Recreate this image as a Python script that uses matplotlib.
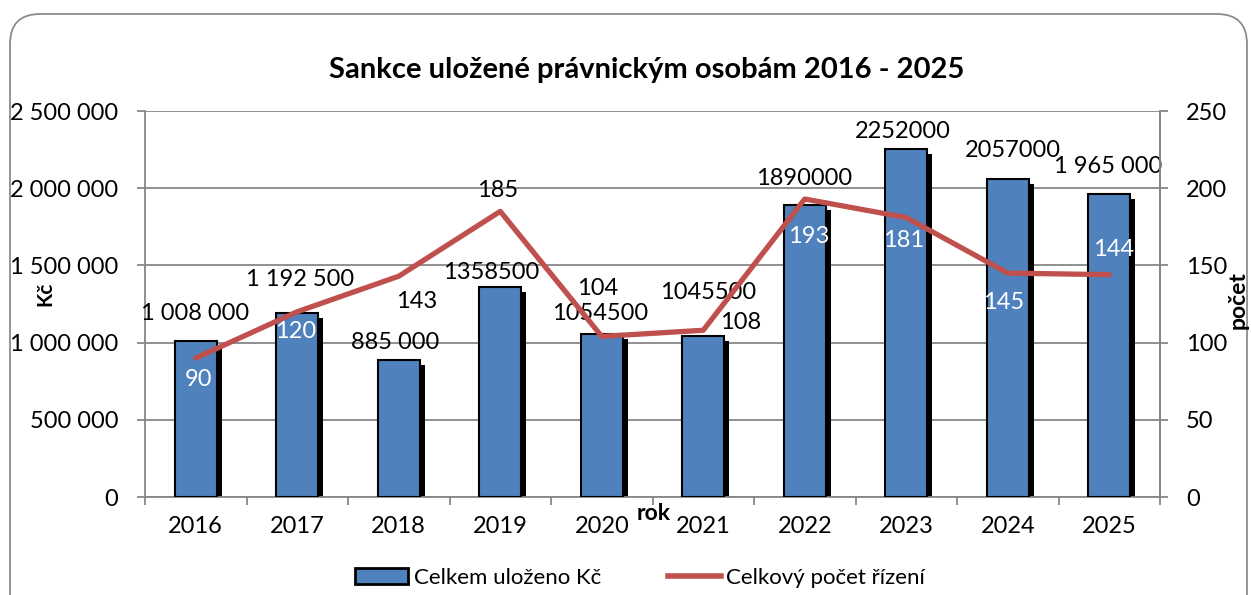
import matplotlib
import matplotlib.pyplot as plt
from matplotlib.patches import FancyBboxPatch, Patch
from matplotlib.lines import Line2D
from matplotlib.ticker import FuncFormatter, MultipleLocator

matplotlib.use("Agg")

# data
years = ["2016", "2017", "2018", "2019", "2020", "2021", "2022", "2023", "2024", "2025"]
fines = [1008000, 1192500, 885000, 1358500, 1054500, 1045500, 1890000, 2252000, 2057000, 1965000]
fine_labels = ["1 008 000", "1 192 500", "885 000", "1358500", "1054500",
               "1045500", "1890000", "2252000", "2057000", "1 965 000"]
cases = [90, 120, 143, 185, 104, 108, 193, 181, 145, 144]

# manual label placement (pixels), like the hand-moved labels in the original
fine_offsets = [(-1, 28), (3, 33), (-4, 18), (-9, 15), (-2, 21),
                (5, 43), (-1, 27), (-3, 18), (5, 29), (-1, 27)]
case_offsets = [(3, -21), (-2, -20), (18, -25), (-3, 21), (-4, 48),
                (37, 8), (4, -37), (-3, -23), (-4, -29), (4, 25)]
case_colors = ["white", "white", "black", "black", "black",
               "black", "white", "white", "white", "white"]

BLUE = "#4F81BD"
RED = "#C0504D"
GRID = "#878787"
FONT = "Lato"
FS = 17

plt.rcParams["font.family"] = [FONT, "DejaVu Sans"]

fig = plt.figure(figsize=(12.51, 5.95), dpi=100)
ax = fig.add_axes([145 / 1251, 1 - 497 / 595, (1160 - 145) / 1251, (497 - 111) / 595])
ax2 = ax.twinx()

x = list(range(len(years)))
width = 0.41
shadow_dx = 0.05
shadow_dy = 32000

# shadows first, then the bars
ax.bar([i + shadow_dx for i in x], [v - shadow_dy for v in fines], width=width,
       color="black", zorder=2)
ax.bar(x, fines, width=width, color=BLUE, edgecolor="black", linewidth=1.5, zorder=3)

ax.set_xlim(-0.5, len(years) - 0.5)
ax.set_ylim(0, 2500000)
ax.yaxis.set_major_locator(MultipleLocator(500000))
ax.yaxis.set_major_formatter(FuncFormatter(lambda v, p: f"{int(v):,}".replace(",", " ")))
ax.grid(axis="y", color=GRID, linewidth=1.3, zorder=0)
ax.set_axisbelow(True)

ax.set_xticks(x)
ax.set_xticklabels(years)
ax.set_xticks([i - 0.5 for i in range(len(years) + 1)], minor=True)
ax.tick_params(axis="x", which="major", length=0, pad=14, labelsize=FS)
ax.tick_params(axis="x", which="minor", length=5.8, width=1.3, color=GRID, direction="out")
ax.tick_params(axis="y", length=5.8, width=1.3, color=GRID, labelsize=FS, pad=13.5)

for sp in ax.spines.values():
    sp.set_color(GRID)
    sp.set_linewidth(1.3)
ax.spines["top"].set_visible(False)

for i, (v, lab, off) in enumerate(zip(fines, fine_labels, fine_offsets)):
    ax.annotate(lab, (i, v), xytext=off, textcoords="offset pixels",
                ha="center", va="center", fontsize=FS, zorder=6)

ax2.plot(x, cases, color=RED, linewidth=3.8, solid_capstyle="round", zorder=4)
ax2.set_ylim(0, 250)
ax2.yaxis.set_major_locator(MultipleLocator(50))
ax2.tick_params(axis="y", length=5.8, width=1.3, color=GRID, labelsize=FS, pad=13)
for sp in ax2.spines.values():
    sp.set_visible(False)
ax2.spines["right"].set_visible(True)
ax2.spines["right"].set_color(GRID)
ax2.spines["right"].set_linewidth(1.3)

for i, (v, off, c) in enumerate(zip(cases, case_offsets, case_colors)):
    ax2.annotate(str(v), (i, v), xytext=off, textcoords="offset pixels",
                 ha="center", va="center", fontsize=FS, color=c, zorder=6)

fig.text(647 / 1251, 1 - 70 / 595, "Sankce uložené právnickým osobám 2016 - 2025",
         ha="center", va="center", fontsize=21, fontweight="bold")
fig.text(45 / 1251, 1 - 294 / 595, "Kč", ha="center", va="center", rotation=90,
         fontsize=15, fontweight="bold")
fig.text(1238 / 1251, 1 - 300 / 595, "počet", ha="center", va="center", rotation=90,
         fontsize=16.5, fontweight="bold")
fig.text(654 / 1251, 1 - 514 / 595, "rok", ha="center", va="center",
         fontsize=16.5, fontweight="bold")

handles = [Patch(facecolor=BLUE, edgecolor="black", linewidth=2),
           Line2D([0], [0], color=RED, linewidth=4)]
fig.legend(handles, ["Celkem uloženo Kč", "Celkový počet řízení"],
           loc="center", bbox_to_anchor=(640 / 1251, 1 - 578 / 595), ncol=2,
           frameon=False, fontsize=16, handlelength=2.4, handletextpad=0.23,
           columnspacing=3.0)

frame = FancyBboxPatch((0.10, -0.4), 12.37, 6.21,
                       boxstyle="round,pad=0,rounding_size=0.3",
                       transform=fig.dpi_scale_trans, facecolor="none",
                       edgecolor="#8c8c8c", linewidth=1.3)
fig.add_artist(frame)

fig.savefig("out.png", dpi=100)
